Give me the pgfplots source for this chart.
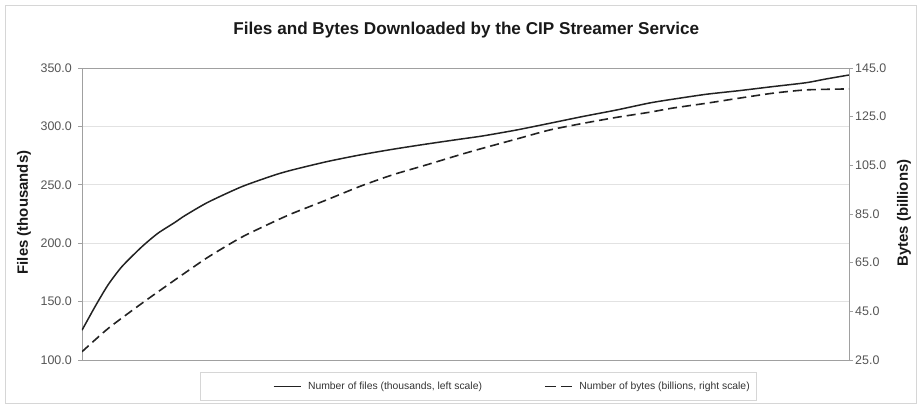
\documentclass[border=0pt]{standalone}
\usepackage{fontspec}
\setmainfont{Liberation Sans}
\usepackage{pgfplots}
\pgfplotsset{compat=1.18}
\definecolor{axisgray}{HTML}{A0A0A0}
\definecolor{gridgray}{HTML}{E2E2E2}
\definecolor{framegray}{HTML}{D6D6D6}
\definecolor{ticktext}{HTML}{555555}
\definecolor{linedark}{HTML}{222222}
\begin{document}
\begin{tikzpicture}
\path (-82bp,-48bp) rectangle (839bp,360bp);
\draw[framegray, line width=0.8bp] (-77bp,-43bp) rectangle (834bp,355bp);
\node[anchor=base, font=\bfseries\fontsize{17.2}{20}\selectfont, text=black!90, inner sep=0pt] at (384.3bp,325bp) {Files and Bytes Downloaded by the CIP Streamer Service};
\begin{axis}[
  at={(0bp,0bp)}, anchor=south west,
  scale only axis, width=767bp, height=292bp,
  xmin=82, xmax=850, ymin=100, ymax=350,
  xtick=\empty,
  ytick={100,150,200,250,300,350},
  ytick pos=left,
  tick align=outside,
  major tick length=4bp,
  axis line style={axisgray, line width=0.9bp},
  every tick/.style={axisgray, line width=0.8bp},
  ymajorgrids,
  grid style={gridgray, line width=0.8bp},
  /pgf/number format/.cd, fixed, fixed zerofill, precision=1, assume math mode=true,
  /pgfplots/.cd,
  yticklabel style={font=\fontsize{12.5}{14}\selectfont, color=ticktext, inner sep=0pt, xshift=-6bp},
  ylabel={Files (thousands)},
  ylabel style={at={(axis description cs:-0.0756,0.505)}, anchor=center, font=\bfseries\fontsize{15}{17}\selectfont, color=black!90},
  legend image code/.code={\draw[#1] (0bp,0bp) -- (27bp,0bp);},
  legend columns=2,
  legend style={draw=none, fill=none, at={(axis description cs:0.2486,-0.0908)}, anchor=west, inner sep=0pt,
    font=\fontsize{10.4}{12}\selectfont, text=black!80,
    nodes={inner sep=0pt},
    /tikz/every odd column/.append style={column sep=6.7bp},
    /tikz/every even column/.append style={column sep=62bp}},
]
\addplot[linedark, line width=1.5bp, smooth, tension=0.4] coordinates {
(82,125.5) (95,145.6) (108,164.2) (122,180) (142,197) (158,208.5) (175,217.8)
(185,223.6) (208,235) (242,248.4) (275,258.4) (293,262.8) (327,269.8) (360,275.5)
(393,280.4) (427,284.9) (460,289) (483,291.8) (517,296.9) (550,302.6) (583,308.4)
(617,314) (650,320) (673,323.2) (707,327.5) (740,330.6) (773,334) (807,337.4)
(827,340.6) (850,344)
};
\addlegendentry{Number of files (thousands, left scale)}
\addlegendimage{linedark, line width=1.6bp, dash pattern=on 11bp off 5bp}
\addlegendentry{Number of bytes (billions, right scale)}
\end{axis}
\begin{axis}[
  at={(0bp,0bp)}, anchor=south west,
  scale only axis, width=767bp, height=292bp,
  xmin=82, xmax=850, ymin=25, ymax=145,
  axis x line=none,
  axis y line*=right,
  ytick={25,45,65,85,105,125,145},
  tick align=outside,
  major tick length=4bp,
  axis line style={axisgray, line width=0.9bp, -},
  every tick/.style={axisgray, line width=0.8bp},
  /pgf/number format/.cd, fixed, fixed zerofill, precision=1, assume math mode=true,
  /pgfplots/.cd,
  yticklabel style={font=\fontsize{12.5}{14}\selectfont, color=ticktext, inner sep=0pt, xshift=2bp},
  ylabel={Bytes (billions)},
  ylabel style={at={(axis description cs:1.0717,0.503)}, anchor=center, font=\bfseries\fontsize{15}{17}\selectfont, color=black!90},
]
\addplot[linedark, line width=1.6bp, dash pattern=on 9bp off 5bp, smooth, tension=0.4] coordinates {
(82,28.4) (108,37.9) (142,48.3) (175,57.9) (208,67.2) (242,75.5) (275,82)
(293,85.3) (327,90.8) (360,96.3) (393,101.1) (427,105.2) (460,109.3) (483,112)
(517,115.8) (550,119.5) (583,122.2) (617,124.7) (650,126.8) (673,128.5)
(707,130.5) (740,132.6) (773,134.6) (807,136) (850,136.4)
};
\end{axis}
\draw[framegray, line width=0.8bp] (118bp,-40bp) rectangle (674.7bp,-12.7bp);
\end{tikzpicture}
\end{document}
